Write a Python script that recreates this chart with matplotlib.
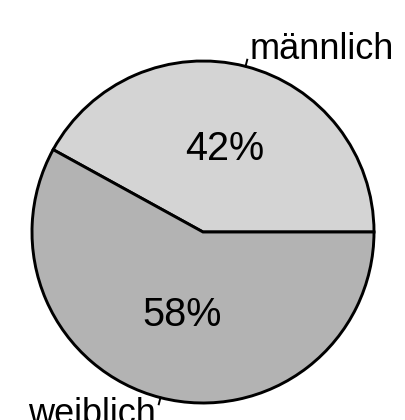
import matplotlib
matplotlib.use("Agg")
import matplotlib.pyplot as plt
import numpy as np

labels = ["männlich", "weiblich"]
shares = [42, 58]
colors = ["#d4d4d4", "#b3b3b3"]

plt.rcParams["font.family"] = ["Liberation Sans", "DejaVu Sans"]

fig = plt.figure(figsize=(4.05, 4.2), dpi=100)
ax = fig.add_axes([0, 0, 1, 1])

center = (203, 188)
radius = 171

wedges, texts, autotexts = ax.pie(
    shares, labels=labels, colors=colors, startangle=0, counterclock=True,
    center=center, radius=radius, labeldistance=1.1,
    autopct="%d%%", pctdistance=0.5,
    wedgeprops=dict(edgecolor="black", linewidth=2.1),
    textprops=dict(fontsize=26), frame=True,
)
for t in autotexts:
    t.set_fontsize(28.5)
ax.set_xlim(0, 405)
ax.set_ylim(0, 420)
ax.set_aspect("equal")
ax.axis("off")

# pie() picks alignment from absolute x, so fix it relative to the centre
for w, t in zip(wedges, texts):
    mid = np.deg2rad((w.theta1 + w.theta2) / 2)
    t.set_ha("left" if np.cos(mid) > 0 else "right")
    # short leader ticks like R's pie()
    r0, r1 = radius, radius * 1.04
    ax.plot([center[0] + r0 * np.cos(mid), center[0] + r1 * np.cos(mid)],
            [center[1] + r0 * np.sin(mid), center[1] + r1 * np.sin(mid)],
            color="black", lw=1.4)

fig.savefig("out.png", dpi=100, facecolor="white")
